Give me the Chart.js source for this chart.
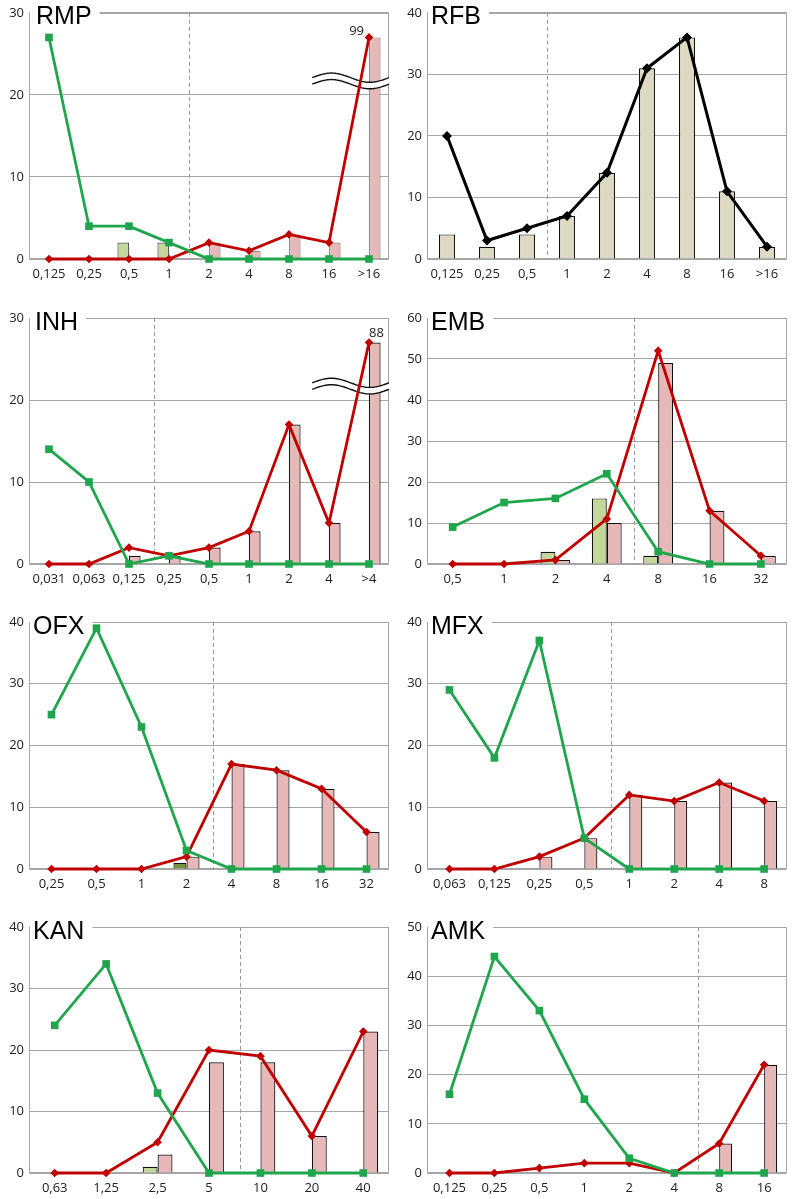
<!DOCTYPE html>
<html>
<head>
<meta charset="utf-8">
<script src="https://cdn.jsdelivr.net/npm/chart.js@4.4.0/dist/chart.umd.min.js"></script>
<style>
  html, body { margin: 0; padding: 0; background: #fff; }
  body { width: 792px; height: 1199px; position: relative; overflow: hidden; }
  canvas { position: absolute; }
</style>
</head>
<body>
<canvas id="rmp" width="396" height="290" style="left:0;top:0"></canvas>
<canvas id="rfb" width="396" height="290" style="left:396px;top:0"></canvas>
<canvas id="inh" width="396" height="300" style="left:0;top:295px"></canvas>
<canvas id="emb" width="396" height="300" style="left:396px;top:295px"></canvas>
<canvas id="ofx" width="396" height="300" style="left:0;top:600px"></canvas>
<canvas id="mfx" width="396" height="300" style="left:396px;top:600px"></canvas>
<canvas id="kan" width="396" height="294" style="left:0;top:905px"></canvas>
<canvas id="amk" width="396" height="294" style="left:396px;top:905px"></canvas>
<script>
// data
const rmpLabels = ['0,125', '0,25', '0,5', '1', '2', '4', '8', '16', '>16'];
const rmpGreenLine = [27, 4, 4, 2, 0, 0, 0, 0, 0];
const rmpRedLine = [0, 0, 0, 0, 2, 1, 3, 2, 27];
const rmpGreenBars = [0, 0, 2, 2, 0, 0, 0, 0, 0];
const rmpPinkBars = [0, 0, 0, 0, 2, 1, 3, 2, 27];

const rfbLabels = ['0,125', '0,25', '0,5', '1', '2', '4', '8', '16', '>16'];
const rfbLine = [20, 3, 5, 7, 14, 31, 36, 11, 2];
const rfbBars = [4, 2, 4, 7, 14, 31, 36, 11, 2];

const inhLabels = ['0,031', '0,063', '0,125', '0,25', '0,5', '1', '2', '4', '>4'];
const inhGreenLine = [14, 10, 0, 1, 0, 0, 0, 0, 0];
const inhRedLine = [0, 0, 2, 1, 2, 4, 17, 5, 27];
const inhGreenBars = [0, 0, 0, 0, 0, 0, 0, 0, 0];
const inhPinkBars = [0, 0, 1, 1, 2, 4, 17, 5, 27];

const embLabels = ['0,5', '1', '2', '4', '8', '16', '32'];
const embGreenLine = [9, 15, 16, 22, 3, 0, 0];
const embRedLine = [0, 0, 1, 11, 52, 13, 2];
const embGreenBars = [0, 0, 3, 16, 2, 0, 0];
const embPinkBars = [0, 0, 1, 10, 49, 13, 2];

const ofxLabels = ['0,25', '0,5', '1', '2', '4', '8', '16', '32'];
const ofxGreenLine = [25, 39, 23, 3, 0, 0, 0, 0];
const ofxRedLine = [0, 0, 0, 2, 17, 16, 13, 6];
const ofxGreenBars = [0, 0, 0, 1, 0, 0, 0, 0];
const ofxPinkBars = [0, 0, 0, 2, 17, 16, 13, 6];

const mfxLabels = ['0,063', '0,125', '0,25', '0,5', '1', '2', '4', '8'];
const mfxGreenLine = [29, 18, 37, 5, 0, 0, 0, 0];
const mfxRedLine = [0, 0, 2, 5, 12, 11, 14, 11];
const mfxGreenBars = [0, 0, 0, 0, 0, 0, 0, 0];
const mfxPinkBars = [0, 0, 2, 5, 12, 11, 14, 11];

const kanLabels = ['0,63', '1,25', '2,5', '5', '10', '20', '40'];
const kanGreenLine = [24, 34, 13, 0, 0, 0, 0];
const kanRedLine = [0, 0, 5, 20, 19, 6, 23];
const kanGreenBars = [0, 0, 1, 0, 0, 0, 0];
const kanPinkBars = [0, 0, 3, 18, 18, 6, 23];

const amkLabels = ['0,125', '0,25', '0,5', '1', '2', '4', '8', '16'];
const amkGreenLine = [16, 44, 33, 15, 3, 0, 0, 0];
const amkRedLine = [0, 0, 1, 2, 2, 0, 6, 22];
const amkGreenBars = [0, 0, 0, 0, 0, 0, 0, 0];
const amkPinkBars = [0, 0, 0, 0, 0, 0, 6, 22];

const GREEN = '#1fa64c';
const RED = '#c00000';
const TICK_FONT = { family: '"Open Sans", sans-serif', size: 13 };

function greenLine(data) {
  return {
    type: 'line', data: data, order: 0, clip: false,
    borderColor: GREEN, borderWidth: 2.8, tension: 0,
    pointStyle: 'rect', pointRadius: 5.4, pointBackgroundColor: GREEN, pointBorderWidth: 0
  };
}
function redLine(data) {
  return {
    type: 'line', data: data, order: 0, clip: false,
    borderColor: RED, borderWidth: 2.8, tension: 0,
    pointStyle: 'rectRot', pointRadius: 4.3, pointBackgroundColor: RED, pointBorderWidth: 0
  };
}
function bars(data, fill, border) {
  return {
    type: 'bar', data: data.map(v => v || null), order: 1,
    backgroundColor: fill, borderColor: border || '#111', borderWidth: 1.2,
    borderSkipped: 'start', categoryPercentage: 0.58, barPercentage: 1
  };
}

// frame, dashed cut-off line, axis break, title
const panelDecor = {
  id: 'panelDecor',
  beforeDatasetsDraw(chart, args, o) {
    const { ctx, chartArea: a, scales: { x } } = chart;
    ctx.save();
    ctx.strokeStyle = '#a6a6a6';
    ctx.lineWidth = 1;
    const l = Math.round(a.left) + 0.5, r = Math.round(a.right) - 0.5;
    const t = Math.round(a.top) + 0.5, b = Math.round(a.bottom) - 0.5;
    ctx.beginPath();
    ctx.moveTo(l, b); ctx.lineTo(l, t); ctx.lineTo(r, t); ctx.lineTo(r, b); ctx.lineTo(l, b);
    ctx.stroke();
    const dx = Math.round(x.getPixelForValue(o.dashAt)) + 0.5;
    ctx.strokeStyle = '#9a9a9a';
    ctx.setLineDash([4, 3]);
    ctx.beginPath();
    ctx.moveTo(dx, a.top);
    ctx.lineTo(dx, a.bottom);
    ctx.stroke();
    ctx.restore();
  },
  afterDatasetDraw(chart, args, o) {
    if (o.breakAt == null || args.index !== o.breakDataset) return;
    const { ctx, chartArea: a, scales: { x, y } } = chart;
    const n = chart.data.labels.length;
    const yc = y.getPixelForValue(o.breakAt);
    const x0 = x.getPixelForValue(n - 1 - 1.42), x1 = a.right;
    const amp = 4.6, gap = 6.5, steps = 40;
    const pt = (t, off) => [x0 + t * (x1 - x0), yc + off - amp * Math.sin(2 * Math.PI * t)];
    ctx.save();
    ctx.beginPath();
    for (let i = 0; i <= steps; i++) {
      const p = pt(i / steps, -gap / 2);
      i ? ctx.lineTo(p[0], p[1]) : ctx.moveTo(p[0], p[1]);
    }
    for (let i = steps; i >= 0; i--) {
      const p = pt(i / steps, gap / 2);
      ctx.lineTo(p[0], p[1]);
    }
    ctx.closePath();
    ctx.fillStyle = '#fff';
    ctx.fill();
    ctx.strokeStyle = '#111';
    ctx.lineWidth = 1.4;
    [-gap / 2, gap / 2].forEach(off => {
      ctx.beginPath();
      for (let i = 0; i <= steps; i++) {
        const p = pt(i / steps, off);
        i ? ctx.lineTo(p[0], p[1]) : ctx.moveTo(p[0], p[1]);
      }
      ctx.stroke();
    });
    ctx.restore();
  },
  afterDraw(chart, args, o) {
    const { ctx, chartArea: a } = chart;
    ctx.save();
    ctx.font = '25px "Liberation Sans", Arial, sans-serif';
    const w = ctx.measureText(o.title).width;
    ctx.fillStyle = '#fff';
    ctx.fillRect(a.left + 1, a.top - 2, o.titleDx + w + 7, 5);
    ctx.fillStyle = '#000';
    ctx.textBaseline = 'alphabetic';
    ctx.fillText(o.title, a.left + o.titleDx, a.top + 11.5);
    if (o.topLabel) {
      const meta = chart.getDatasetMeta(o.topLabel.dataset);
      const el = meta.data[meta.data.length - 1];
      ctx.font = '13px "Open Sans", sans-serif';
      ctx.fillStyle = '#222';
      ctx.textAlign = o.topLabel.align;
      ctx.fillText(o.topLabel.text, el.x + o.topLabel.dx, el.y + o.topLabel.dy);
    }
    ctx.restore();
  }
};

function makePanel(id, labels, datasets, o) {
  const right = o.col === 1;
  new Chart(document.getElementById(id), {
    type: 'bar',
    data: { labels: labels, datasets: datasets },
    plugins: [panelDecor],
    options: {
      responsive: false,
      animation: false,
      events: [],
      layout: { padding: { left: 0, right: right ? 4 : 7, top: o.padTop, bottom: o.padBottom - 4 } },
      plugins: {
        legend: { display: false },
        tooltip: { enabled: false },
        panelDecor: o
      },
      scales: {
        x: {
          grid: { display: false, drawTicks: false },
          border: { display: false },
          ticks: { font: TICK_FONT, color: '#222', padding: 7, maxRotation: 0, autoSkip: false },
          afterFit(scale) { scale.height = 26; }
        },
        y: {
          min: 0, max: o.yMax,
          grid: { color: '#a6a6a6', drawTicks: false },
          border: { display: false },
          ticks: { stepSize: 10, font: TICK_FONT, color: '#222', padding: 5 },
          afterFit(scale) { scale.width = right ? 31 : 29; }
        }
      }
    }
  });
}

makePanel('rmp', rmpLabels, [
  greenLine(rmpGreenLine), redLine(rmpRedLine),
  bars(rmpGreenBars, '#c4d79b', '#5a5a5a'), bars(rmpPinkBars, '#e6b9b8', '#8a8a8a')
], { col: 0, padTop: 12, padBottom: 9, yMax: 30, title: 'RMP', titleDx: 7, dashAt: 3.5,
     breakAt: 21.7, breakDataset: 3, topLabel: { dataset: 1, text: '99', align: 'right', dx: -5, dy: -2 } });

const rfbBarSet = bars(rfbBars, '#ddd9c3');
rfbBarSet.categoryPercentage = 0.4;
makePanel('rfb', rfbLabels, [
  { type: 'line', data: rfbLine, order: 0, clip: false, borderColor: '#000', borderWidth: 3, tension: 0,
    pointStyle: 'rectRot', pointRadius: 5, pointBackgroundColor: '#000', pointBorderWidth: 0 },
  rfbBarSet
], { col: 1, padTop: 12, padBottom: 9, yMax: 40, title: 'RFB', titleDx: 4, dashAt: 2.5 });

makePanel('inh', inhLabels, [
  greenLine(inhGreenLine), redLine(inhRedLine),
  bars(inhGreenBars, '#c4d79b'), bars(inhPinkBars, '#e6b9b8')
], { col: 0, padTop: 23, padBottom: 9, yMax: 30, title: 'INH', titleDx: 6, dashAt: 2.62,
     breakAt: 21.7, breakDataset: 3, topLabel: { dataset: 1, text: '88', align: 'left', dx: 0, dy: -6 } });

makePanel('emb', embLabels, [
  greenLine(embGreenLine), redLine(embRedLine),
  bars(embGreenBars, '#c4d79b'), bars(embPinkBars, '#e6b9b8')
], { col: 1, padTop: 23, padBottom: 9, yMax: 60, title: 'EMB', titleDx: 4, dashAt: 3.53 });

makePanel('ofx', ofxLabels, [
  greenLine(ofxGreenLine), redLine(ofxRedLine),
  bars(ofxGreenBars, '#77933c'), bars(ofxPinkBars, '#e6b9b8')
], { col: 0, padTop: 22, padBottom: 9, yMax: 40, title: 'OFX', titleDx: 4, dashAt: 3.58 });

makePanel('mfx', mfxLabels, [
  greenLine(mfxGreenLine), redLine(mfxRedLine),
  bars(mfxGreenBars, '#c4d79b'), bars(mfxPinkBars, '#e6b9b8')
], { col: 1, padTop: 22, padBottom: 9, yMax: 40, title: 'MFX', titleDx: 4, dashAt: 3.59 });

makePanel('kan', kanLabels, [
  greenLine(kanGreenLine), redLine(kanRedLine),
  bars(kanGreenBars, '#c4d79b'), bars(kanPinkBars, '#e6b9b8')
], { col: 0, padTop: 22, padBottom: 4, yMax: 40, title: 'KAN', titleDx: 4, dashAt: 3.6 });

makePanel('amk', amkLabels, [
  greenLine(amkGreenLine), redLine(amkRedLine),
  bars(amkGreenBars, '#c4d79b'), bars(amkPinkBars, '#e6b9b8')
], { col: 1, padTop: 22, padBottom: 4, yMax: 50, title: 'AMK', titleDx: 4, dashAt: 5.53 });
</script>
</body>
</html>
